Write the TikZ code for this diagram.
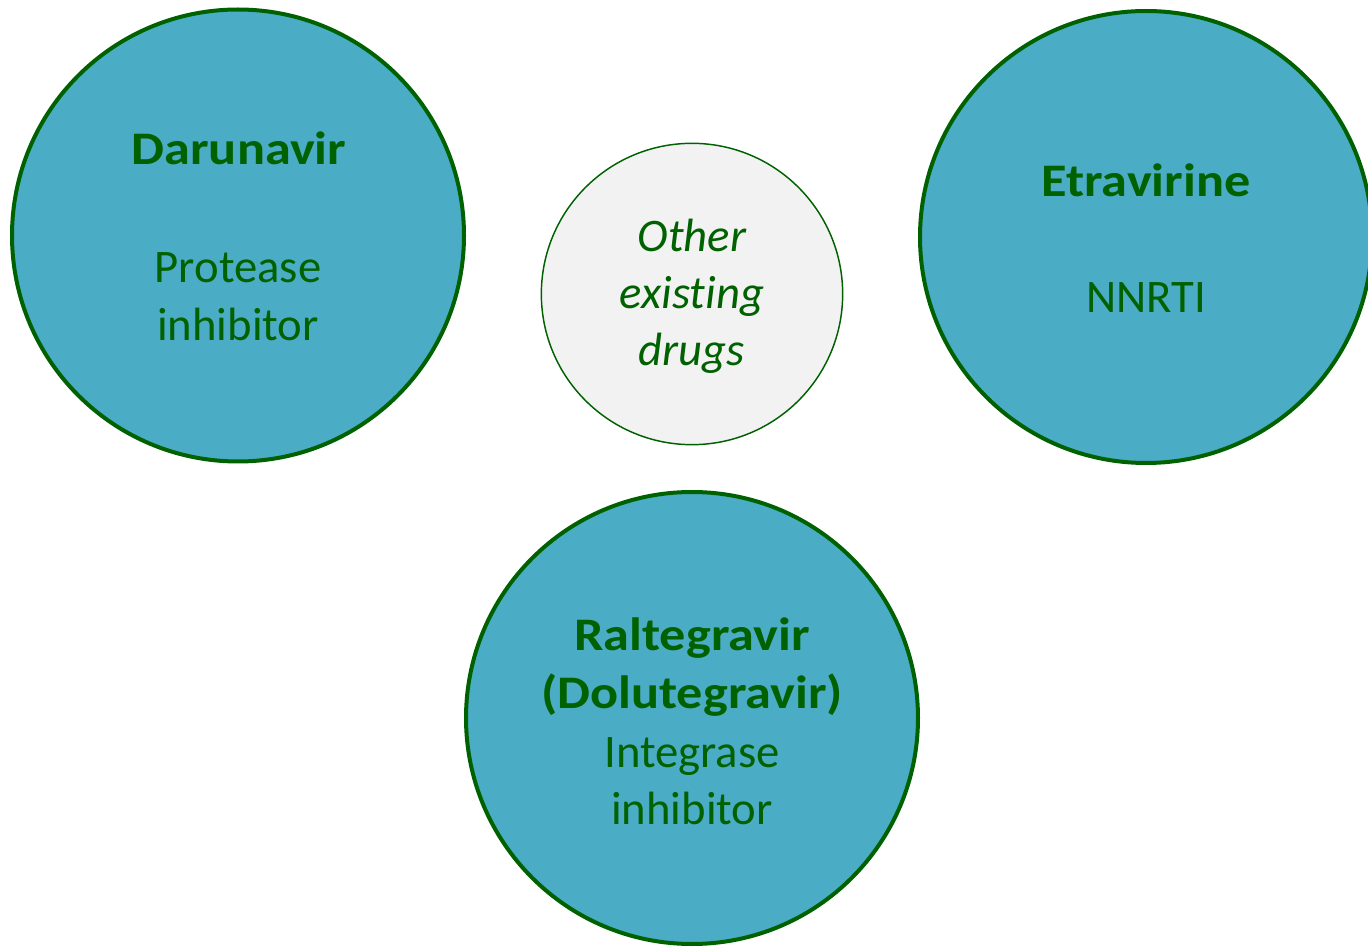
\documentclass[tikz,border=0pt]{standalone}
\usepackage{fontspec}
\setmainfont{Carlito}[Ligatures=NoCommon,BoldFeatures={FakeStretch=1.12}]
\definecolor{dgreen}{HTML}{006100}
\definecolor{drugblue}{HTML}{4BACC6}
\definecolor{lightgrey}{HTML}{F2F2F2}
\begin{document}
\begin{tikzpicture}[x=0.75pt,y=-0.75pt,
  bigcirc/.style={circle,draw=dgreen,line width=3pt,fill=drugblue,minimum size=339pt,inner sep=0pt},
  smallcirc/.style={circle,draw=dgreen,line width=1.1pt,fill=lightgrey,minimum size=226pt,inner sep=0pt},
  lbl/.style={anchor=base,text=dgreen,inner sep=0pt,font=\fontsize{35}{42}\selectfont},
  lblb/.style={lbl,font=\fontsize{35}{42}\selectfont\bfseries},
  lbli/.style={lbl,font=\fontsize{35}{42}\selectfont\itshape}]
\useasboundingbox (0,0) rectangle (1368,948);
\clip (0,0) rectangle (1368,948);
% circles
\node[bigcirc] (daru) at (238,235.5) {};
\node[bigcirc] (etra) at (1146,237) {};
\node[bigcirc] (ralt) at (692,718) {};
\node[smallcirc] (other) at (692,294) {};
% Darunavir
\node[lblb] (daru1) at (239,165) {Darunavir};
\node[lbl] (daru2) at (238,283) {Protease};
\node[lbl] (daru3) at (238,341) {inhibitor};
% Other
\node[lbli] (oth1) at (692,252) {Other};
\node[lbli] (oth2) at (692,309) {existing};
\node[lbli] (oth3) at (692,366) {drugs};
% Etravirine
\node[lblb] (etra1) at (1146,197) {Etravirine};
\node[lbl] (etra2) at (1146,313) {NNRTI};
% Raltegravir
\node[lblb] (ralt1) at (692,650) {Raltegravir};
\node[lblb] (ralt2) at (692,708) {(Dolutegravir)};
\node[lbl] (ralt3) at (692,767) {Integrase};
\node[lbl] (ralt4) at (692,824) {inhibitor};
\end{tikzpicture}
\end{document}
